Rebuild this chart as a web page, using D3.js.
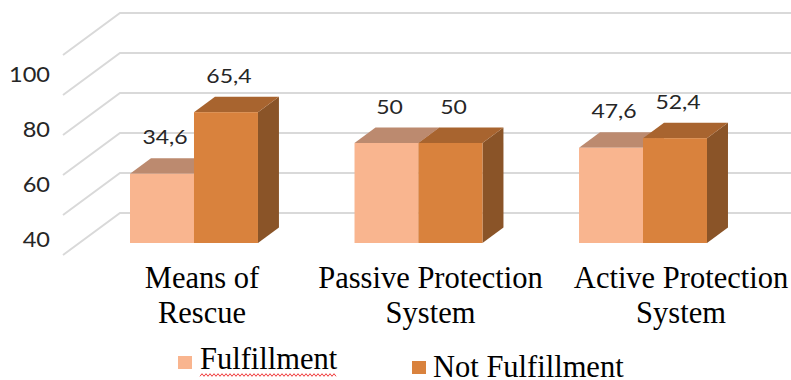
<!DOCTYPE html>
<html>
<head>
<meta charset="utf-8">
<script src="https://cdn.jsdelivr.net/npm/d3@7/dist/d3.min.js"></script>
<style>
  html, body { margin: 0; padding: 0; background: #fff; }
  svg { display: block; }
</style>
</head>
<body>
<svg id="chart" width="791" height="380"></svg>
<script>
// ---- data ----
const categories = ["Means of Rescue", "Passive Protection System", "Active Protection System"];
const categoryLines = [["Means of", "Rescue"], ["Passive Protection", "System"], ["Active Protection", "System"]];
const seriesNames = ["Fulfillment", "Not Fulfillment"];
const fulfillment = [34.6, 50, 47.6];
const notFulfillment = [65.4, 50, 52.4];
const gridValues = [0, 20, 40, 60, 80, 100];
const tickLabels = [40, 60, 80, 100];

// ---- layout ----
const W = 791, H = 380;
const depthX = 57, depthY = 42;        // full floor depth projected to screen
const zFront = 0.286, zBack = 0.654;   // bar front / back depth fractions
const wallLeft = 63;
const labelNudge = [8, 12, 38];
const sansScale = 1.15;

const colors = {
  "Fulfillment":     { front: "#F9B58F", top: "#BC8A6F", side: "#C98F6E" },
  "Not Fulfillment": { front: "#D9823D", top: "#A8642F", side: "#8A5428" }
};

const svg = d3.select("#chart");
svg.append("rect").attr("width", W).attr("height", H).attr("fill", "#fff");

// value scale on the front plane of the floor
const y = d3.scaleLinear().domain([0, 100]).range([255, 55]);
// category bands on the front plane
const x = d3.scaleBand().domain(categories).range([113.7, 690.7]).paddingInner(0.43).paddingOuter(0);
const xs = d3.scaleBand().domain(seriesNames).range([0, x.bandwidth()]).padding(0);
// tick label placement along the left edge
const tickY = d3.scaleLinear().domain([40, 100]).range([247, 82]);

const project = (px, v, z) => [px + depthX * z, y(v) - depthY * z];

// ---- gridlines (side wall diagonal + back wall) ----
const grid = svg.append("g").attr("fill", "none").attr("stroke", "#D9D9D9").attr("stroke-width", 2);
gridValues.forEach(v => {
  const p0 = [wallLeft, y(v)];
  const p1 = [wallLeft + depthX, y(v) - depthY];
  grid.append("path").attr("d", d3.line()([p0, p1, [W, p1[1]]]));
});

// ---- y tick labels ----
svg.append("g").selectAll("text").data(tickLabels).join("text")
  .attr("transform", d => `translate(50,${tickY(d)}) scale(${sansScale},1)`)
  .attr("text-anchor", "end")
  .attr("font-family", "Lato, 'Open Sans', sans-serif")
  .attr("font-size", 20.5)
  .attr("fill", "#262626")
  .text(d => d);

// ---- 3D bars ----
const seriesValues = { "Fulfillment": fulfillment, "Not Fulfillment": notFulfillment };
const bars = svg.append("g");
const valueLabels = [];
categories.forEach((cat, i) => {
  seriesNames.forEach(s => {
    const v = seriesValues[s][i];
    const x0 = x(cat) + xs(s), x1 = x0 + xs.bandwidth();
    const c = colors[s];
    const f0 = project(x0, 0, zFront), f1 = project(x1, v, zFront);
    const g = bars.append("g");
    // side face
    g.append("path").attr("fill", c.side)
      .attr("d", d3.line()([project(x1, 0, zFront), project(x1, v, zFront), project(x1, v, zBack), project(x1, 0, zBack)]) + "Z");
    // top face
    g.append("path").attr("fill", c.top)
      .attr("d", d3.line()([project(x0, v, zFront), project(x1, v, zFront), project(x1, v, zBack), project(x0, v, zBack)]) + "Z");
    // front face
    g.append("rect").attr("fill", c.front)
      .attr("x", f0[0]).attr("y", f1[1])
      .attr("width", f1[0] - f0[0]).attr("height", f0[1] - f1[1]);
    valueLabels.push({ v, cx: (f0[0] + f1[0]) / 2 + 3, by: project(x0, v, zBack)[1] - 14 });
  });
});

// ---- value labels ----
svg.append("g").selectAll("text").data(valueLabels).join("text")
  .attr("transform", d => `translate(${d.cx},${d.by}) scale(${sansScale},1)`)
  .attr("text-anchor", "middle")
  .attr("font-family", "Lato, 'Open Sans', sans-serif")
  .attr("font-size", 20)
  .attr("fill", "#262626")
  .text(d => String(d.v).replace(".", ","));

// ---- category labels ----
const catG = svg.append("g")
  .attr("font-family", "'Liberation Serif', 'Times New Roman', serif")
  .attr("font-size", 30.5)
  .attr("fill", "#000")
  .attr("text-anchor", "middle");
categories.forEach((cat, i) => {
  const cx = project(x(cat) + x.bandwidth() / 2, 0, zFront)[0] + labelNudge[i];
  const t = catG.append("text").attr("x", cx).attr("y", 288);
  categoryLines[i].forEach((line, j) => {
    t.append("tspan").attr("x", cx).attr("dy", j === 0 ? 0 : 35).text(line);
  });
});

// ---- legend ----
const legendItems = [
  { name: seriesNames[0], sx: 178, sy: 356, tx: 200, ty: 369 },
  { name: seriesNames[1], sx: 412, sy: 361, tx: 433, ty: 377 }
];
const leg = svg.append("g");
legendItems.forEach(d => {
  leg.append("rect").attr("x", d.sx).attr("y", d.sy).attr("width", 14).attr("height", 13)
    .attr("fill", colors[d.name].front);
  leg.append("text").attr("x", d.tx).attr("y", d.ty)
    .attr("font-family", "'Liberation Serif', 'Times New Roman', serif")
    .attr("font-size", 30.5).attr("fill", "#000").text(d.name);
});

// spell-check squiggle under the first legend entry
const sq = [];
for (let px = 200, k = 0; px <= 337; px += 2, k++) sq.push([px, 375 + (k % 2 ? -1.3 : 1.3)]);
leg.append("path").attr("d", d3.line()(sq)).attr("fill", "none")
  .attr("stroke", "#F03A3A").attr("stroke-width", 1);
</script>
</body>
</html>
